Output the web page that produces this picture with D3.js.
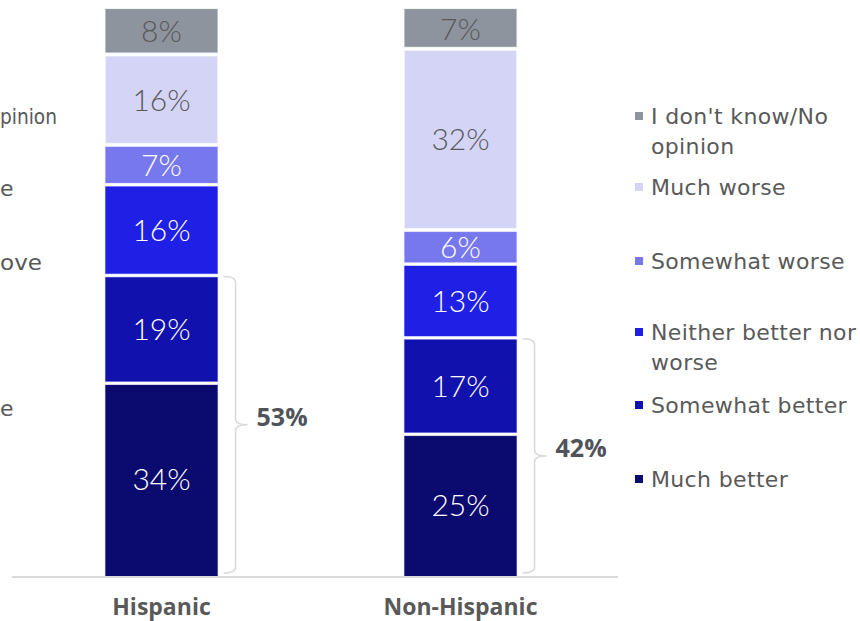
<!DOCTYPE html>
<html>
<head>
<meta charset="utf-8">
<script src="https://cdn.jsdelivr.net/npm/d3@7"></script>
<style>
  html, body { margin: 0; padding: 0; background: #fff; }
  svg { display: block; }
</style>
</head>
<body>
<svg id="chart" width="860" height="621"></svg>
<script>
// ---- data ----
const categories = ["Hispanic", "Non-Hispanic"];
const seriesNames = ["Much better", "Somewhat better", "Neither better nor worse", "Somewhat worse", "Much worse", "I don't know/No opinion"];
const muchBetter = [34, 25];
const somewhatBetter = [19, 17];
const neitherBetterNorWorse = [16, 13];
const somewhatWorse = [7, 6];
const muchWorse = [16, 32];
const dontKnow = [8, 7];
const netBetter = [53, 42];
const legendLines = [["I don't know/No", "opinion"], ["Much worse"], ["Somewhat worse"], ["Neither better nor", "worse"], ["Somewhat better"], ["Much better"]];
const leftFragments = ["pinion", "e", "ove", "e"];

const seriesValues = [muchBetter, somewhatBetter, neitherBetterNorWorse, somewhatWorse, muchWorse, dontKnow];
const colors = ["#0a0a6f", "#1111ad", "#1f1fe6", "#7878ee", "#d4d4f7", "#8e949d"];
const labelColors = ["#ffffff", "#ffffff", "#ffffff", "#ffffff", "#595959", "#595959"];

const svg = d3.select("#chart");
const x = d3.scaleBand().domain(categories).range([12, 610]).padding(0);
const barW = x.bandwidth() * 0.375;
const y = d3.scaleLinear().domain([0, 100]).range([576, 9]);

const rows = categories.map((c, i) => {
  const r = { category: c };
  seriesNames.forEach((s, j) => r[s] = seriesValues[j][i]);
  return r;
});
const stacked = d3.stack().keys(seriesNames)(rows);

const gap = 1.8;
const layers = svg.append("g").selectAll("g").data(stacked).join("g");
layers.each(function(layer, li) {
  const g = d3.select(this);
  const isTop = li === seriesNames.length - 1;
  g.selectAll("rect").data(layer).join("rect")
    .attr("x", d => x(d.data.category) + (x.bandwidth() - barW) / 2)
    .attr("width", barW)
    .attr("y", d => y(d[1]) + (isTop ? 0 : gap))
    .attr("height", d => y(d[0]) - y(d[1]) - (li === 0 ? gap : 2 * gap) + (isTop ? gap : 0))
    .attr("fill", colors[li])
    .attr("stroke", d3.color(colors[li]).brighter(0.6))
    .attr("stroke-opacity", 0.35)
    .attr("stroke-width", 1);
  g.selectAll("text").data(layer).join("text")
    .attr("x", d => x(d.data.category) + x.bandwidth() / 2)
    .attr("y", d => (y(d[0]) + y(d[1])) / 2)
    .attr("dy", "0.36em")
    .attr("text-anchor", "middle")
    .attr("font-family", "Lato, 'DejaVu Sans', sans-serif")
    .attr("font-weight", 300)
    .attr("font-size", 30)
    .attr("fill", labelColors[li])
    .text(d => (d[1] - d[0]) + "%");
});

// axis baseline
svg.append("line")
  .attr("x1", 12).attr("x2", 618)
  .attr("y1", 577).attr("y2", 577)
  .attr("stroke", "#d9d9d9").attr("stroke-width", 2);

// category labels
const xAxis = d3.axisBottom(x).tickSize(0).tickPadding(0);
const ax = svg.append("g").attr("transform", "translate(0,599)").call(xAxis);
ax.select(".domain").remove();
ax.selectAll("text")
  .attr("font-family", "'Open Sans', sans-serif")
  .attr("font-weight", 700)
  .attr("font-size", 23)
  .attr("fill", "#595959");

// braces for net better
categories.forEach((c, i) => {
  const top = y(muchBetter[i] + somewhatBetter[i]) + 1;
  const bot = y(0) - 3;
  const mid = (top + bot) / 2;
  const x0 = x(c) + (x.bandwidth() + barW) / 2 + 6;
  const x1 = x0 + 12;
  const xp = x1 + 12;
  const r = 6;
  const p = d3.path();
  p.moveTo(x0, top);
  p.quadraticCurveTo(x1, top, x1, top + r);
  p.lineTo(x1, mid - r);
  p.quadraticCurveTo(x1, mid, xp, mid);
  p.quadraticCurveTo(x1, mid, x1, mid + r);
  p.lineTo(x1, bot - r);
  p.quadraticCurveTo(x1, bot, x0, bot);
  svg.append("path").attr("d", p.toString())
    .attr("fill", "none").attr("stroke", "#d9d9d9").attr("stroke-width", 1.5);
  svg.append("text")
    .attr("x", xp + 9).attr("y", mid - 8).attr("dy", "0.36em")
    .attr("font-family", "'Open Sans', sans-serif")
    .attr("font-weight", 700).attr("font-size", 25)
    .attr("fill", "#50535a")
    .text(netBetter[i] + "%");
});

// legend
const legendColors = colors.slice().reverse();
const legendY = [116, 187, 261, 332, 405, 479];
const lg = svg.append("g");
legendLines.forEach((lines, i) => {
  lg.append("rect").attr("x", 635).attr("y", legendY[i] - 4).attr("width", 8).attr("height", 8)
    .attr("fill", legendColors[i]);
  const t = lg.append("text").attr("x", 651).attr("y", legendY[i])
    .attr("font-family", "'DejaVu Sans', sans-serif").attr("font-size", 22)
    .attr("letter-spacing", 0.35).attr("fill", "#595959");
  lines.forEach((ln, k) => t.append("tspan").attr("x", 651).attr("dy", k === 0 ? "0.36em" : 30).text(ln));
});

// visible fragments of a neighbouring legend at the left edge
const fragY = [116, 188, 262, 408];
const fragLen = [57, null, 42, null];
leftFragments.forEach((f, i) => {
  const t = svg.append("text").attr("x", 0).attr("y", fragY[i]).attr("dy", "0.36em")
    .attr("font-family", "'DejaVu Sans', sans-serif").attr("font-size", 22)
    .attr("fill", "#595959")
    .text(f);
  if (fragLen[i]) t.attr("textLength", fragLen[i]).attr("lengthAdjust", "spacingAndGlyphs");
});
</script>
</body>
</html>
